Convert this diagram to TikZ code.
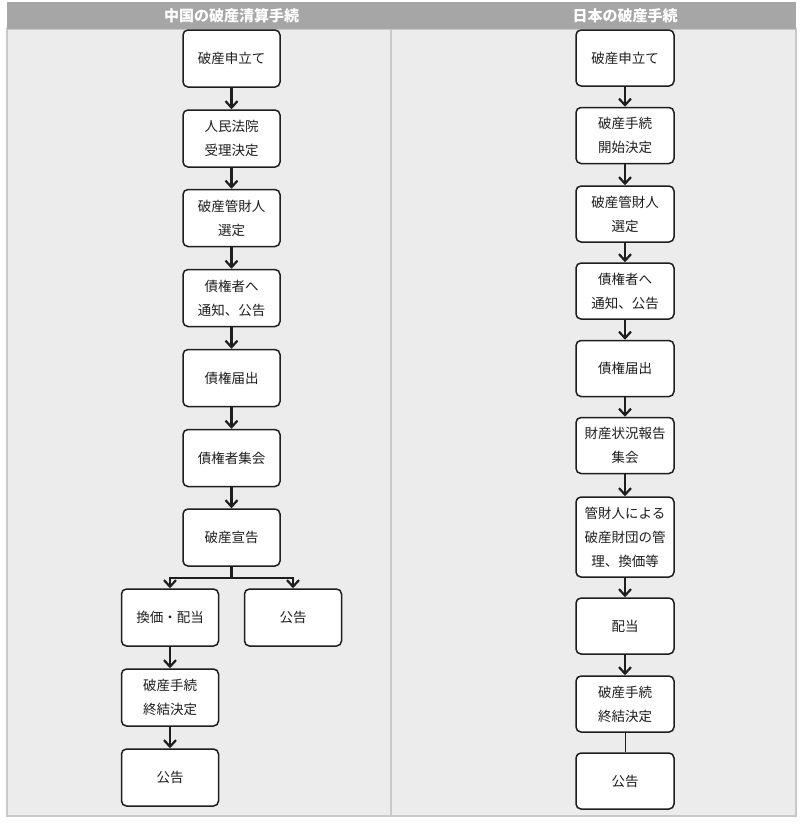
\documentclass[tikz,border=0pt]{standalone}
\usepackage{fontspec}
\setmainfont{Noto Sans CJK JP}
\usetikzlibrary{arrows.meta,positioning}
\definecolor{hdr}{HTML}{A6A6A6}
\definecolor{panel}{HTML}{ECECEC}
\definecolor{pborder}{HTML}{C8C8C8}
\definecolor{ink}{HTML}{1E1E1E}
\tikzset{
  box/.style={draw=ink, line width=1.5bp, rounded corners=5bp, fill=white,
    minimum width=97bp, minimum height=57bp, inner sep=0pt, align=center,
    text=ink, font=\fontsize{13.5bp}{24bp}\selectfont},
  tallbox/.style={box, minimum height=80bp},
  arr/.style={line width=2.2bp, draw=ink, -{Straight Barb[length=6.5bp,width=12bp,line width=2.2bp]}},
  thin/.style={line width=1bp, draw=ink},
  hdrtext/.style={text=white, font=\bfseries\fontsize{15bp}{16bp}\selectfont, inner sep=0pt}
}
\begin{document}
\begin{tikzpicture}[x=1bp,y=-1bp]
\useasboundingbox (0,0) rectangle (800,829);
% panels
\fill[panel] (7,29) rectangle (796,816);
\draw[pborder, line width=1.5bp] (7,29) rectangle (796,816);
\draw[pborder, line width=1.2bp] (391,29) -- (391,816);
\fill[hdr] (7,2) rectangle (796,29);
\node[hdrtext] (h1) at (231.5,16) {中国の破産清算手続};
\node[hdrtext] (h2) at (625,16) {日本の破産手続};
% left column
\node[box] (a1) at (231.5,58.5) {破産申立て};
\node[box] (a2) at (231.5,138.5) {人民法院\\受理決定};
\node[box] (a3) at (231.5,218) {破産管財人\\選定};
\node[box] (a4) at (231.5,298) {債権者へ\\通知、公告};
\node[box] (a5) at (231.5,378) {債権届出};
\node[box] (a6) at (231.5,458) {債権者集会};
\node[box] (a7) at (231.5,537.5) {破産宣告};
\node[box] (a8) at (170,617.5) {換価・配当};
\node[box] (a9) at (293,617.5) {公告};
\node[box] (a10) at (170,697.5) {破産手続\\終結決定};
\node[box] (a11) at (170,777.5) {公告};
\draw[arr] (a1) -- (a2);
\draw[arr] (a2) -- (a3);
\draw[arr] (a3) -- (a4);
\draw[arr] (a4) -- (a5);
\draw[arr] (a5) -- (a6);
\draw[arr] (a6) -- (a7);
\coordinate (br) at (231.5,578);
\draw[line width=2.2bp, draw=ink] (a7.south) -- (br);
\draw[arr] (br) -| (a8.north);
\draw[arr] (br) -| (a9.north);
\draw[arr] (a8) -- (a10);
\draw[arr] (a10) -- (a11);
% right column
\node[box, minimum width=98bp, minimum height=56bp] (b1) at (625,58) {破産申立て};
\node[box, minimum width=98bp, minimum height=56bp] (b2) at (625,135.5) {破産手続\\開始決定};
\node[box, minimum width=98bp, minimum height=56bp] (b3) at (625,214) {破産管財人\\選定};
\node[box, minimum width=98bp, minimum height=56bp] (b4) at (625,291) {債権者へ\\通知、公告};
\node[box, minimum width=98bp, minimum height=56bp] (b5) at (625,368.5) {債権届出};
\node[box, minimum width=98bp, minimum height=56bp] (b6) at (625,445.5) {財産状況報告\\集会};
\node[tallbox, minimum width=98bp] (b7) at (625,537) {管財人による\\破産財団の管\\理、換価等};
\node[box, minimum width=98bp, minimum height=56bp] (b8) at (625,626) {配当};
\node[box, minimum width=98bp, minimum height=56bp] (b9) at (625,704) {破産手続\\終結決定};
\node[box, minimum width=98bp, minimum height=56bp] (b10) at (625,781) {公告};
\draw[arr] (b1) -- (b2);
\draw[arr] (b2) -- (b3);
\draw[arr] (b3) -- (b4);
\draw[arr] (b4) -- (b5);
\draw[arr] (b5) -- (b6);
\draw[arr] (b6) -- (b7);
\draw[arr] (b7) -- (b8);
\draw[arr] (b8) -- (b9);
\draw[thin] (b9) -- (b10);
\end{tikzpicture}
\end{document}
